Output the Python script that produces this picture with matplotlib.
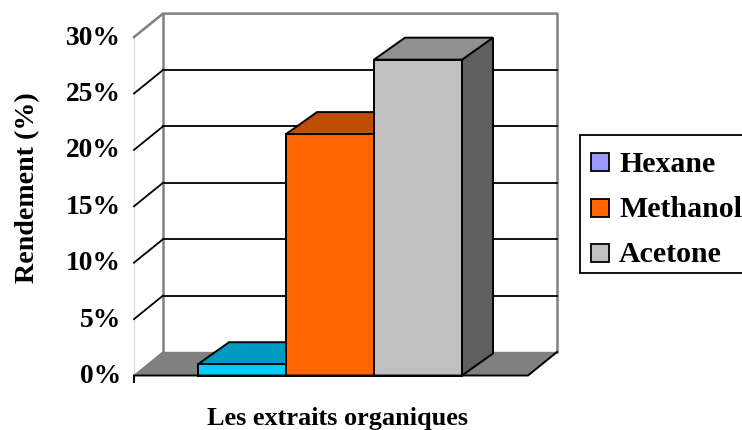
#!/usr/bin/env python3

import matplotlib
matplotlib.use("Agg")
import matplotlib.pyplot as plt
from matplotlib.patches import Polygon, Rectangle

solvents = ["Hexane", "Methanol", "Acetone"]
yields = [1.0, 21.4, 28.0]
y_ticks = [0, 5, 10, 15, 20, 25, 30]
y_tick_labels = ["0%", "5%", "10%", "15%", "20%", "25%", "30%"]
front_colors = ["#00CCFF", "#FF6600", "#C0C0C0"]
top_colors = ["#0099BF", "#BF4D00", "#909090"]
side_colors = ["#006680", "#803300", "#606060"]
legend_colors = ["#9999FF", "#FF6600", "#C0C0C0"]

# one bar is one x unit wide, y is in percent; depth is the oblique offset of the back wall
PX_PER_X = 88.0
PX_PER_Y = 11.28
X0_PX = 198.0
Y0_PX = 376.5
W, H = 742, 431
DX = 29.0 / PX_PER_X
DY = 23.5 / PX_PER_Y
BAR_DX = 31.0 / PX_PER_X
BAR_DY = 22.0 / PX_PER_Y
X_LEFT = (134 - X0_PX) / PX_PER_X
X_RIGHT = (528 - X0_PX) / PX_PER_X

fig = plt.figure(figsize=(W / 100, H / 100), dpi=100)
ax = fig.add_axes([0, 0, 1, 1])
ax.set_xlim(-X0_PX / PX_PER_X, (W - X0_PX) / PX_PER_X)
ax.set_ylim(-(H - Y0_PX) / PX_PER_Y, Y0_PX / PX_PER_Y)
ax.axis("off")

plt.rcParams["font.family"] = ["Liberation Serif", "DejaVu Serif"]
plt.rcParams["font.weight"] = "bold"

# floor
ax.add_patch(Polygon([(X_LEFT, 0), (X_RIGHT, 0), (X_RIGHT + DX, DY), (X_LEFT + DX, DY)],
                     facecolor="#808080", edgecolor="none", zorder=1))

# walls and gridlines
ax.plot([X_LEFT, X_LEFT], [0, 30], color="#DDDDDD", lw=1, zorder=2)
ax.plot([X_LEFT + DX, X_LEFT + DX], [DY, 30 + DY], color="#808080", lw=1.8, zorder=2)
ax.plot([X_RIGHT + DX, X_RIGHT + DX], [DY, 30 + DY], color="#808080", lw=1.8, zorder=2)
for t in y_ticks[1:-1]:
    ax.plot([X_LEFT, X_LEFT + DX], [t, t + DY], color="black", lw=1.3, zorder=2)
    ax.plot([X_LEFT + DX, X_RIGHT + DX], [t + DY, t + DY], color="black", lw=1.3, zorder=2)
ax.plot([X_LEFT, X_LEFT + DX, X_RIGHT + DX], [30, 30 + DY, 30 + DY], color="#808080", lw=1.8, zorder=2)
ax.plot([X_LEFT, X_LEFT + DX], [0, DY], color="#808080", lw=1, zorder=2)
ax.plot([X_LEFT + DX, X_RIGHT + DX], [DY, DY], color="#808080", lw=1, zorder=2)

# bars, left to right so each one covers the side of the previous one
for i, v in enumerate(yields):
    z = 3 + i
    style = dict(edgecolor="black", lw=1.4, joinstyle="miter", zorder=z)
    ax.add_patch(Polygon([(i + 1, 0), (i + 1 + BAR_DX, BAR_DY), (i + 1 + BAR_DX, v + BAR_DY), (i + 1, v)],
                         facecolor=side_colors[i], **style))
    ax.add_patch(Polygon([(i, v), (i + 1, v), (i + 1 + BAR_DX, v + BAR_DY), (i + BAR_DX, v + BAR_DY)],
                         facecolor=top_colors[i], **style))
    ax.add_patch(Rectangle((i, 0), 1, v, facecolor=front_colors[i], **style))

# front axis line
ax.plot([X_LEFT, X_RIGHT, X_RIGHT + DX], [0, 0, DY], color="black", lw=1.4, zorder=8)
ax.plot([X_LEFT, X_LEFT], [0, -6 / PX_PER_Y], color="black", lw=1.4, zorder=8)

for t, lab in zip(y_ticks, y_tick_labels):
    ax.text(X_LEFT - 13 / PX_PER_X, t, lab, ha="right", va="center", fontsize=19.8, fontweight="bold")

ax.text(28 / W, 1 - 188 / H, "Rendement (%)", transform=ax.transAxes, rotation=90,
        ha="center", va="center", fontsize=20.2, fontweight="bold")
ax.text(337.5 / W, 1 - 419 / H, "Les extraits organiques", transform=ax.transAxes,
        ha="center", va="center", fontsize=18.9, fontweight="bold")

# legend box runs past the right edge of the figure
ax.add_patch(Rectangle((580 / W, 1 - 273.5 / H), 200 / W, 138 / H, transform=ax.transAxes,
                       facecolor="white", edgecolor="black", lw=1.3, clip_on=False, zorder=9))
legend_y = [163, 209, 254]
for name, color, py in zip(solvents, legend_colors, legend_y):
    ax.add_patch(Rectangle((591 / W, 1 - (py + 9) / H), 18 / W, 18 / H, transform=ax.transAxes,
                           facecolor=color, edgecolor="black", lw=1.3, zorder=10))
    ax.text(619 / W, 1 - (py + 1) / H, name, transform=ax.transAxes, ha="left", va="center",
            fontsize=21.5, fontweight="bold", zorder=10)

fig.savefig("out.png", dpi=100)
